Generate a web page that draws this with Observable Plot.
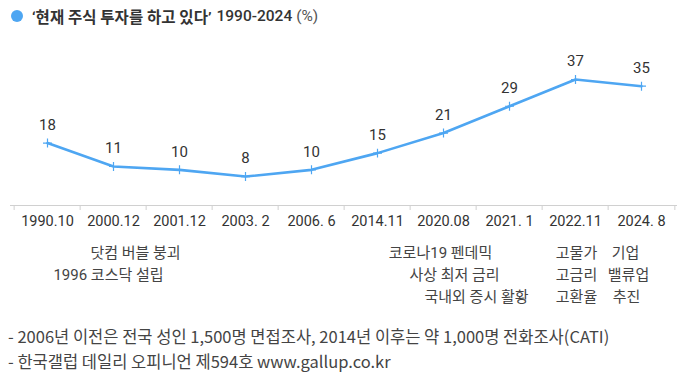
<!DOCTYPE html>
<html>
<head>
<meta charset="utf-8">
<script src="https://cdn.jsdelivr.net/npm/d3@7"></script>
<script src="https://cdn.jsdelivr.net/npm/@observablehq/plot@0.6"></script>
<style>
  body { margin: 0; background: #fff; font-family: Roboto, "Noto Sans CJK KR", sans-serif; color: #333; }
  #wrap { width: 699px; height: 391px; position: relative; overflow: hidden; }
  #title { height: 32px; display: flex; align-items: center; padding-left: 11px; font-size: 15.5px; color: #333; }
  #title .dot { width: 12px; height: 12px; border-radius: 50%; background: #4ea6f2; margin-right: 9px; }
  #title b { font-weight: 700; }
  #title .yr { font-weight: 500; margin-left: 5px; }
  #title .pct { font-weight: 400; margin-left: 4px; color: #555; }
  #notes { padding-top: 19px; padding-left: 8px; font-size: 16.5px; line-height: 25px; color: #444; white-space: nowrap; font-family: "Noto Sans CJK KR", Roboto, sans-serif; }
</style>
</head>
<body>
<div id="wrap">
  <div id="title"><span class="dot"></span><b>‘현재 주식 투자를 하고 있다’</b><span class="yr">1990-2024</span><span class="pct">(%)</span></div>
  <div id="chart"></div>
  <div id="notes">
    <div>- 2006년 이전은 전국 성인 1,500명 면접조사, 2014년 이후는 약 1,000명 전화조사(CATI)</div>
    <div>- 한국갤럽 데일리 오피니언 제594호 www.gallup.co.kr</div>
  </div>
</div>
<script>
const periods = ["1990.10", "2000.12", "2001.12", "2003. 2", "2006. 6", "2014.11", "2020.08", "2021. 1", "2022.11", "2024. 8"];
const shares = [18, 11, 10, 8, 10, 15, 21, 29, 37, 35];

const noteAt = ["2000.12", "2000.12", "2020.08", "2020.08", "2020.08", "2022.11", "2022.11", "2022.11", "2024. 8", "2024. 8", "2024. 8"];
const noteRow = [0, 1, 0, 1, 2, 0, 1, 2, 0, 1, 2];
const noteText = ["닷컴 버블 붕괴", "1996 코스닥 설립", "코로나19 펜데믹", "사상 최저 금리", "국내외 증시 활황", "고물가", "고금리", "고환율", "기업", "밸류업", "추진"];

const data = periods.map((p, i) => ({period: p, value: shares[i]}));
const notes = noteText.map((t, i) => ({at: noteAt[i], row: noteRow[i], text: t}));

// horizontal nudges of annotation text (layout only)
const noteDx = [22, -5, -3, 11, 33, 1, 1, 1, -16, -13, -15];

const W = 699, H = 273;
const mL = 10, mR = 22;
const bw = (W - mL - mR) / periods.length;
const base = -0.65;
const lineColor = "#4ea6f2";
const font = "Roboto, 'Noto Sans CJK KR', sans-serif";

const marks = [
  Plot.ruleY([base], {stroke: "#d0d0d0", strokeWidth: 1}),
  Plot.ruleX(periods, {x: d => d, y1: base, y2: base - 1.5, dx: -bw / 2, stroke: "#d0d0d0"}),
  Plot.ruleX([periods[periods.length - 1]], {x: d => d, y1: base, y2: base - 1.5, dx: bw / 2, stroke: "#d0d0d0"}),
  Plot.line(data, {x: "period", y: "value", stroke: lineColor, strokeWidth: 2.6}),
  Plot.dot(data, {x: "period", y: "value", symbol: "plus", r: 3, stroke: lineColor, strokeWidth: 1.2}),
  Plot.text(data, {x: "period", y: "value", text: d => String(d.value), dy: -18, fontSize: 15, fill: "#333"}),
  Plot.text(periods, {x: d => d, y: base, dy: 16, text: d => d, fontSize: 14.5, fill: "#333"})
];
notes.forEach((n, i) => {
  marks.push(Plot.text([n], {x: "at", y: base, text: "text", dy: 48 + n.row * 22, dx: noteDx[i], fontSize: 15, fill: "#444"}));
});

const chart = Plot.plot({
  width: W,
  height: H,
  marginLeft: mL,
  marginRight: mR,
  marginTop: 47,
  marginBottom: 100,
  style: {fontFamily: font, background: "transparent", overflow: "visible"},
  x: {type: "band", domain: periods, padding: 0, axis: null},
  y: {domain: [base, 37], axis: null},
  marks
});
document.getElementById("chart").appendChild(chart);
</script>
</body>
</html>
